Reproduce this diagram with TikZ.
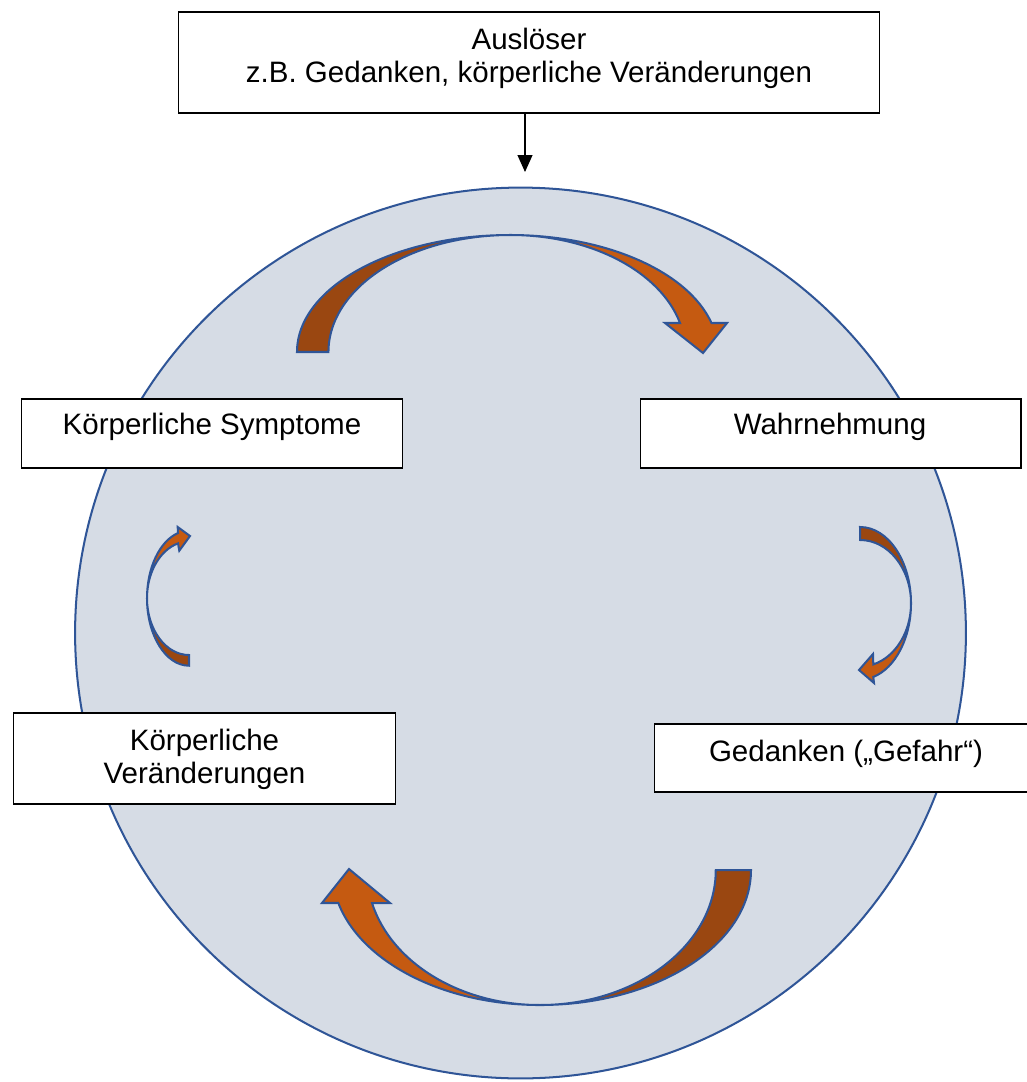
\documentclass[tikz,border=0pt]{standalone}
\usepackage{fontspec}
\setmainfont{Liberation Sans}
\usetikzlibrary{arrows.meta}
\definecolor{circfill}{HTML}{D6DCE5}
\definecolor{circline}{HTML}{2F5597}
\definecolor{arrdark}{HTML}{9A4711}
\definecolor{arrlight}{HTML}{C55A11}
\begin{document}
\begin{tikzpicture}[x=0.02cm,y=0.02cm,
  box/.style={draw=black, line width=0.6pt, fill=white, inner sep=0pt, outer sep=0pt},
  lbl/.style={font=\fontsize{16.8}{19.3}\selectfont, align=center, inner sep=0pt},
  band/.style={draw=circline, line width=1.15pt, line join=miter},
  ring/.style={circle, draw=circline, fill=circfill, line width=1.15pt, inner sep=0pt, minimum size=17.82cm}]
\useasboundingbox (0,0) rectangle (1027,-1082);
\clip (0,0) rectangle (1027,-1082);

% big circle
\node[ring] (cyc) at (520.5,-633) {};

% top curved arrow
\fill[arrdark] (297,-352) arc[start angle=180,end angle=90,x radius=213,y radius=117]
  arc[start angle=90,end angle=180,x radius=182,y radius=117] -- cycle;
\fill[arrlight] (510,-235) arc[start angle=90,end angle=14.35,x radius=208,y radius=117]
  -- (727,-323) -- (703,-353) -- (665,-323) -- (680,-323)
  arc[start angle=14.35,end angle=90,x radius=175,y radius=117] -- cycle;
\draw[band] (297,-352) arc[start angle=180,end angle=90,x radius=213,y radius=117]
  arc[start angle=90,end angle=14.35,x radius=208,y radius=117]
  -- (727,-323) -- (703,-353) -- (665,-323) -- (680,-323)
  arc[start angle=14.35,end angle=90,x radius=175,y radius=117]
  arc[start angle=90,end angle=180,x radius=182,y radius=117] -- cycle;

% bottom curved arrow
\fill[arrdark] (751,-870) arc[start angle=0,end angle=-90,x radius=211,y radius=135]
  arc[start angle=-90,end angle=0,x radius=176,y radius=135] -- cycle;
\fill[arrlight] (540,-1005) arc[start angle=-90,end angle=-165.86,x radius=208,y radius=135]
  -- (322,-903) -- (349,-869) -- (390,-903) -- (372,-903)
  arc[start angle=-165.86,end angle=-90,x radius=173,y radius=135] -- cycle;
\draw[band] (751,-870) arc[start angle=0,end angle=-90,x radius=211,y radius=135]
  arc[start angle=-90,end angle=-165.86,x radius=208,y radius=135]
  -- (322,-903) -- (349,-869) -- (390,-903) -- (372,-903)
  arc[start angle=-165.86,end angle=-90,x radius=173,y radius=135]
  arc[start angle=-90,end angle=0,x radius=176,y radius=135] -- cycle;

% right small curved arrow
\fill[arrdark] (860,-527) arc[start angle=90,end angle=0,x radius=51,y radius=76.3]
  arc[start angle=0,end angle=90,x radius=51,y radius=63.3] -- cycle;
\fill[arrlight] (911,-603.3) arc[start angle=0,end angle=-74.9,x radius=51,y radius=76.3]
  -- (874,-683) -- (859,-670) -- (873,-654) -- (873.3,-664.4)
  arc[start angle=-74.9,end angle=0,x radius=51,y radius=63.3] -- cycle;
\draw[band] (860,-527) arc[start angle=90,end angle=0,x radius=51,y radius=76.3]
  arc[start angle=0,end angle=-74.9,x radius=51,y radius=76.3]
  -- (874,-683) -- (859,-670) -- (873,-654) -- (873.3,-664.4)
  arc[start angle=-74.9,end angle=0,x radius=51,y radius=63.3]
  arc[start angle=0,end angle=90,x radius=51,y radius=63.3] -- cycle;

% left small curved arrow
\fill[arrdark] (189,-665.7) arc[start angle=270,end angle=180,x radius=42,y radius=67.5]
  arc[start angle=180,end angle=270,x radius=42,y radius=56.8] -- cycle;
\fill[arrlight] (147,-598.2) arc[start angle=180,end angle=105.2,x radius=42,y radius=67.5]
  -- (177.7,-527) -- (190,-536) -- (179.3,-550.7) -- (178,-543.4)
  arc[start angle=105.2,end angle=180,x radius=42,y radius=56.8] -- cycle;
\draw[band] (189,-665.7) arc[start angle=270,end angle=180,x radius=42,y radius=67.5]
  arc[start angle=180,end angle=105.2,x radius=42,y radius=67.5]
  -- (177.7,-527) -- (190,-536) -- (179.3,-550.7) -- (178,-543.4)
  arc[start angle=105.2,end angle=180,x radius=42,y radius=56.8]
  arc[start angle=180,end angle=270,x radius=42,y radius=56.8] -- cycle;

% boxes
\node[box, minimum width=14.04cm, minimum height=2.02cm] (trig) at (529,-62.5) {};
\node[lbl] (trigt) at (529,-58.4) {Auslöser\\z.B. Gedanken, körperliche Veränderungen};

\node[box, minimum width=7.64cm, minimum height=1.38cm] (symp) at (212,-433.5) {};
\node[lbl] (sympt) at (212,-427.3) {Körperliche Symptome};

\node[box, minimum width=7.62cm, minimum height=1.38cm] (wahr) at (830.5,-433.5) {};
\node[lbl] (wahrt) at (830,-427.3) {Wahrnehmung};

\node[box, minimum width=7.66cm, minimum height=1.82cm] (ver) at (204.5,-758.5) {};
\node[lbl] (vert) at (204.5,-759.4) {Körperliche\\Veränderungen};

\node[box, minimum width=7.68cm, minimum height=1.36cm] (ged) at (846,-758) {};
\node[lbl] (gedt) at (846,-754.3) {Gedanken („Gefahr“)};

% trigger arrow
\coordinate (tipc) at (525,-172);
\draw[line width=0.6pt, -{Triangle[width=0.3cm,length=0.34cm]}] (trig.south -| tipc) -- (tipc);
\end{tikzpicture}
\end{document}
